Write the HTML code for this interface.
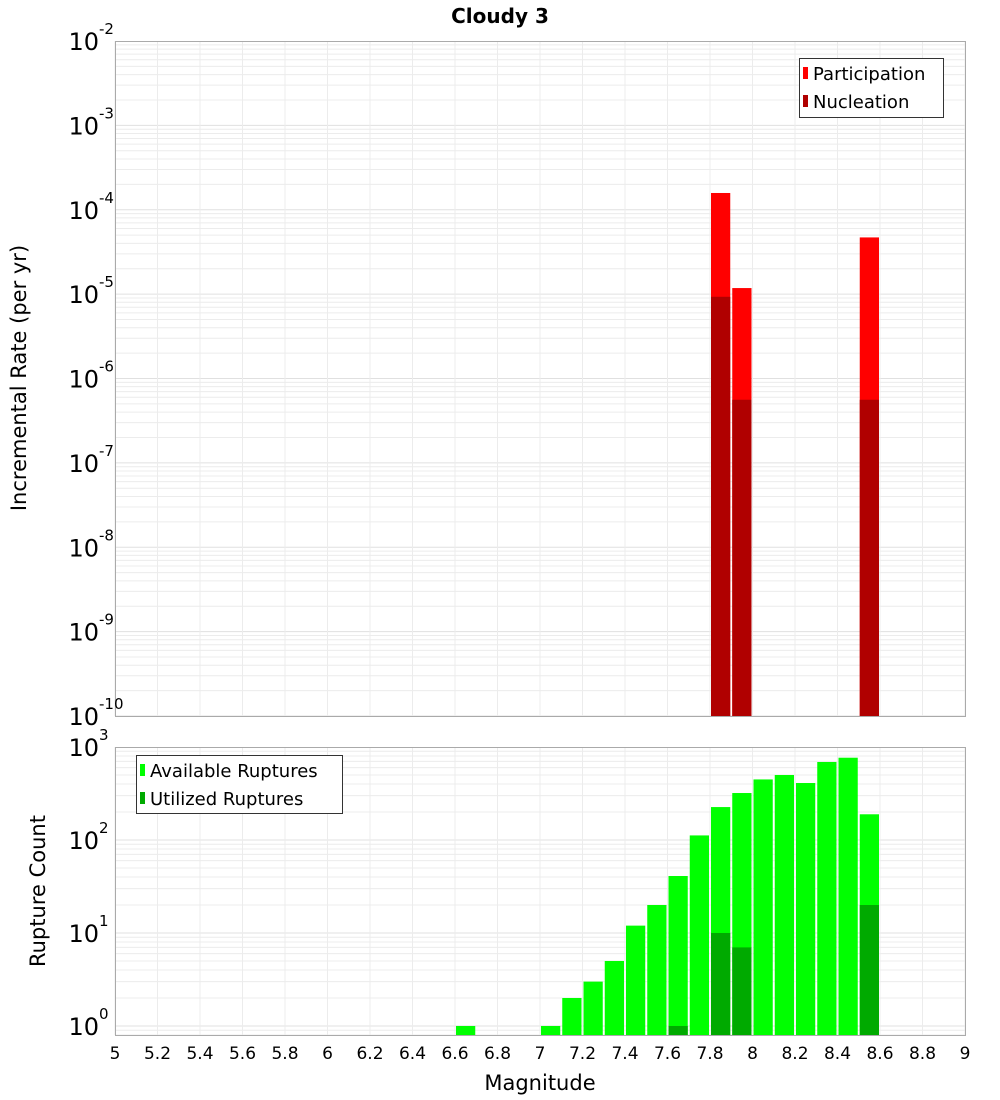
<!DOCTYPE html>
<html><head><meta charset="utf-8"><style>
body{margin:0;background:#fff}
svg{display:block;font-family:"DejaVu Sans","Liberation Sans",sans-serif}
</style></head><body>
<svg id="chart" width="1000" height="1100" xmlns="http://www.w3.org/2000/svg">
<text x="500" y="23" text-anchor="middle" font-size="20" font-weight="bold">Cloudy 3</text>
<g id="top"></g>
<g id="bot"></g>
<text transform="translate(26,378) rotate(-90)" text-anchor="middle" font-size="21">Incremental Rate (per yr)</text>
<text transform="translate(45,891) rotate(-90)" text-anchor="middle" font-size="21">Rupture Count</text>
<text x="540" y="1090" text-anchor="middle" font-size="21">Magnitude</text>
<g>
<rect x="799.5" y="58.5" width="144" height="59" fill="#fff" stroke="#333"/>
<rect x="803" y="67" width="5" height="12" fill="#ff0000"/>
<text x="813" y="80" font-size="18">Participation</text>
<rect x="803" y="95" width="5" height="12" fill="#b00000"/>
<text x="813" y="108" font-size="18">Nucleation</text>
</g>
<g>
<rect x="136.5" y="755.5" width="206" height="58" fill="#fff" stroke="#333"/>
<rect x="140" y="764" width="5" height="12" fill="#00ff00"/>
<text x="150" y="777" font-size="18">Available Ruptures</text>
<rect x="140" y="792" width="5" height="12" fill="#00aa00"/>
<text x="150" y="805" font-size="18">Utilized Ruptures</text>
</g>
</svg>
<script>
const rateMags=[7.85,7.95,8.55];
const participation=[1.58e-4,1.18e-5,4.7e-5];
const nucleation=[9.3e-6,5.6e-7,5.6e-7];
const countMags=[6.65,7.05,7.15,7.25,7.35,7.45,7.55,7.65,7.75,7.85,7.95,8.05,8.15,8.25,8.35,8.45,8.55];
const available=[1,1,2,3,5,12,20,41,112,226,320,448,500,410,690,767,189];
const utilizedMags=[7.65,7.85,7.95,8.55];
const utilized=[1,10,7,20];
const xTicks=[5,5.2,5.4,5.6,5.8,6,6.2,6.4,6.6,6.8,7,7.2,7.4,7.6,7.8,8,8.2,8.4,8.6,8.8,9];
const rateExps=[-2,-3,-4,-5,-6,-7,-8,-9,-10];
const countExps=[0,1,2,3];

const NS="http://www.w3.org/2000/svg";
const X0=115,X1=965;
const xs=m=>X0+(m-5)/4*(X1-X0);
function mk(p,tag,a){const e=document.createElementNS(NS,tag);for(const k in a)e.setAttribute(k,a[k]);p.appendChild(e);return e;}
function panel(g,top,bot,lmin,lmax){
  const ys=v=>bot-(Math.log10(v)-lmin)/(lmax-lmin)*(bot-top);
  for(let d=Math.floor(lmin);d<lmax;d++)for(let k=1;k<10;k++){
    const v=k*Math.pow(10,d);const l=Math.log10(v);
    if(l<lmin||l>lmax)continue;const y=ys(v);
    const ln=mk(g,'line',{x1:X0,x2:X1,y1:y,y2:y,stroke:k==1?'#e0e0e0':'#ececec','stroke-width':1});
    
    
  }
  for(const t of xTicks){const ln=mk(g,'line',{x1:xs(t),x2:xs(t),y1:top,y2:bot,stroke:'#ececec'});
    
    }
  return ys;
}
function bar(g,m,v,ys,bot,col,name){
  const r=mk(g,'rect',{x:xs(m-0.05)+1,width:xs(m+0.05)-xs(m-0.05)-2,y:ys(v),height:bot-ys(v),fill:col});
  
  
}
function ylab(g,y,e,x){
  const t=mk(g,'text',{x:x,y:y+9,'text-anchor':'end','font-size':24});
  
  
  t.textContent='10';
  const s=mk(g,'text',{x:x,y:y-7,'font-size':15});
  
  
  s.textContent=String(e);
}
// top
const gt=document.getElementById('top');
const T0=41,T1=716;
const yt=panel(gt,T0,T1,-10,-2);
rateMags.forEach((m,i)=>bar(gt,m,participation[i],yt,T1,'#ff0000','bar-participation-'+m));
rateMags.forEach((m,i)=>bar(gt,m,nucleation[i],yt,T1,'#b00000','bar-nucleation-'+m));
mk(gt,'rect',{x:X0+.5,y:T0+.5,width:X1-X0,height:T1-T0,fill:'none',stroke:'#aaa'});
rateExps.forEach(e=>ylab(gt,yt(Math.pow(10,e)),e,99));
// bottom
const gb=document.getElementById('bot');
const B0=747,B1=1035;
const yb=panel(gb,B0,B1,Math.log10(0.8),3.0);
countMags.forEach((m,i)=>bar(gb,m,available[i],yb,B1,'#00ff00','bar-available-'+m));
utilizedMags.forEach((m,i)=>bar(gb,m,utilized[i],yb,B1,'#00aa00','bar-utilized-'+m));
mk(gb,'rect',{x:X0+.5,y:B0+.5,width:X1-X0,height:B1-B0,fill:'none',stroke:'#aaa'});
countExps.forEach(e=>ylab(gb,yb(Math.pow(10,e)),e,99));
xTicks.forEach(t=>{
  const tx=mk(gb,'text',{x:xs(t),y:1059,'text-anchor':'middle','font-size':17});
  
  
  tx.textContent=String(t);
});
</script>
</body></html>
